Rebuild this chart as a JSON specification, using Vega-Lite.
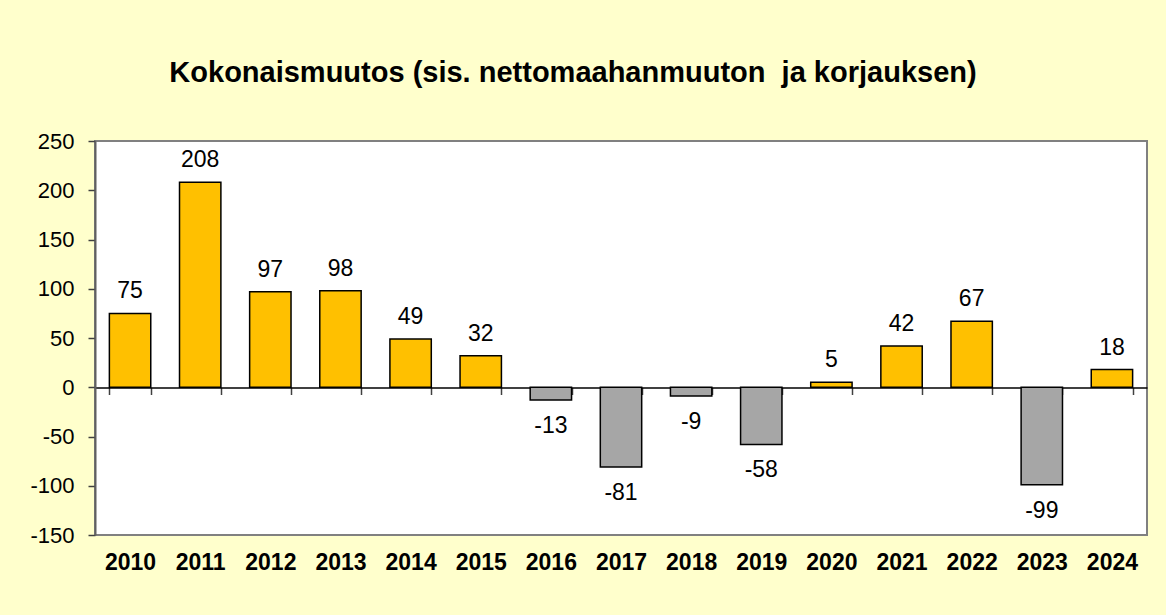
{
  "$schema": "https://vega.github.io/schema/vega-lite/v6.json",
  "autosize": "none",
  "width": 1052,
  "height": 394,
  "padding": {"left": 95, "top": 141, "right": 19, "bottom": 80},
  "background": "#FFFFCC",
  "title": {
    "text": "Kokonaismuutos (sis. nettomaahanmuuton\u00a0 ja korjauksen)",
    "anchor": "middle",
    "frame": "group",
    "dx": -48,
    "offset": 19,
    "baseline": "alphabetic",
    "font": "Liberation Sans",
    "fontSize": 29,
    "fontWeight": "bold",
    "color": "#000000"
  },
  "config": {
    "view": {"fill": "#FFFFFF", "stroke": "#808080", "strokeWidth": 2},
    "axis": {"grid": false, "labelFont": "Liberation Sans", "labelColor": "#000000", "title": null}
  },
  "data": {
    "values": [
      {"year": "2010", "v": 75},
      {"year": "2011", "v": 208},
      {"year": "2012", "v": 97},
      {"year": "2013", "v": 98},
      {"year": "2014", "v": 49},
      {"year": "2015", "v": 32},
      {"year": "2016", "v": -13},
      {"year": "2017", "v": -81},
      {"year": "2018", "v": -9},
      {"year": "2019", "v": -58},
      {"year": "2020", "v": 5},
      {"year": "2021", "v": 42},
      {"year": "2022", "v": 67},
      {"year": "2023", "v": -99},
      {"year": "2024", "v": 18}
    ]
  },
  "encoding": {
    "x": {
      "field": "year",
      "type": "ordinal",
      "scale": {"paddingInner": 0.41, "paddingOuter": 0.205},
      "axis": {
        "orient": "bottom",
        "offset": -147.5,
        "labelAngle": 0,
        "labelFontSize": 23,
        "labelFontWeight": "bold",
        "labelPadding": 157,
        "tickBand": "extent",
        "tickSize": 7,
        "tickColor": "#404040",
        "tickWidth": 1.5,
        "domainColor": "#000000",
        "domainWidth": 1.5
      }
    },
    "y": {
      "field": "v",
      "type": "quantitative",
      "scale": {"domain": [-150, 250], "nice": false, "zero": false},
      "axis": {
        "values": [-150, -100, -50, 0, 50, 100, 150, 200, 250],
        "labelExpr": "replace(datum.label, '\u2212', '-')",
        "labelFontSize": 22,
        "labelPadding": 14,
        "tickSize": 7,
        "tickColor": "#404040",
        "tickWidth": 1.5,
        "domainColor": "#606060",
        "domainWidth": 2
      }
    }
  },
  "layer": [
    {
      "mark": {"type": "bar", "stroke": "#000000", "strokeWidth": 1.5},
      "encoding": {
        "y2": {"datum": 0},
        "fill": {
          "condition": {"test": "datum.v < 0", "value": "#A6A6A6"},
          "value": "#FFC000"
        }
      }
    },
    {
      "transform": [{"filter": "datum.v >= 0"}],
      "mark": {"type": "text", "baseline": "alphabetic", "dy": -15, "font": "Liberation Sans", "fontSize": 23, "color": "#000000"},
      "encoding": {"text": {"field": "v", "type": "nominal"}}
    },
    {
      "transform": [{"filter": "datum.v < 0"}],
      "mark": {"type": "text", "baseline": "top", "dy": 15, "font": "Liberation Sans", "fontSize": 23, "color": "#000000"},
      "encoding": {"text": {"field": "v", "type": "nominal"}}
    }
  ]
}
